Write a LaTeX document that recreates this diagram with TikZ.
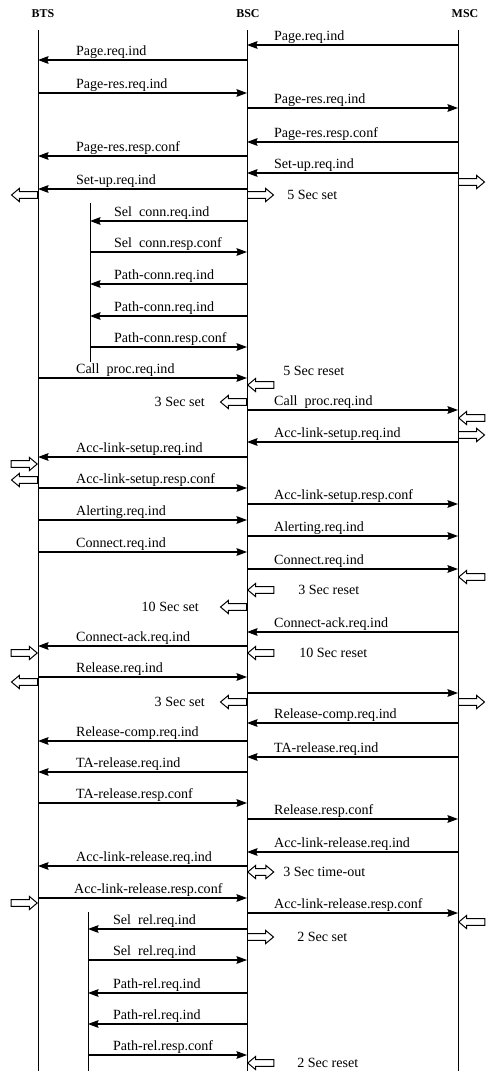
\documentclass[tikz,border=0pt]{standalone}
\usepackage{fontspec}
\setmainfont{Liberation Serif}
\usetikzlibrary{arrows.meta, shapes.arrows}

\begin{document}
\begin{tikzpicture}[
    x=0.025cm, y=-0.025cm,
    head/.style = {inner sep=0pt, font=\fontsize{8.5}{10}\selectfont\bfseries},
    msglabel/.style = {anchor=south west, inner sep=0.6pt, text depth=0.23em, font=\fontsize{10}{12}\selectfont},
    timerlabel/.style = {anchor=west, inner sep=0pt, font=\fontsize{10}{12}\selectfont},
    life/.style = {line width=0.6pt},
    msg/.style = {->, line width=0.8pt},
    timerR/.style = {single arrow, draw, line width=0.7pt, inner sep=2pt, minimum height=18.5pt,
                     single arrow head extend=2.4pt, single arrow tip angle=80},
    timerL/.style = {timerR, shape border rotate=180},
    timerLR/.style = {double arrow, draw, line width=0.7pt, inner sep=2pt, minimum height=18.5pt,
                      double arrow head extend=2.4pt, double arrow tip angle=80},
    >={Stealth[length=7.5pt,width=5.5pt,inset=1pt]}]

\useasboundingbox (0,0) rectangle (492,1071);

% entities and lifelines
\node[head] (BTS) at (43,14) {BTS};
\node[head] (BSC) at (248,14) {BSC};
\node[head] (MSC) at (465,14) {MSC};
\coordinate (bts) at (38,30);  \coordinate (btsend) at (38,1071);
\coordinate (bsc) at (247,30); \coordinate (bscend) at (247,1071);
\coordinate (msc) at (458,30); \coordinate (mscend) at (458,1071);
\coordinate (selA) at (90,203); \coordinate (selAend) at (90,362);
\coordinate (selB) at (88,912); \coordinate (selBend) at (88,1071);

% message labels
\node[msglabel] (m1) at (273,45) {Page.req.ind};
\node[msglabel] (m2) at (75,60) {Page.req.ind};
\node[msglabel] (m3) at (75,93) {Page-res.req.ind};
\node[msglabel] (m4) at (273,108) {Page-res.req.ind};
\node[msglabel] (m5) at (273,142) {Page-res.resp.conf};
\node[msglabel] (m6) at (75,156) {Page-res.resp.conf};
\node[msglabel] (m7) at (273,173) {Set-up.req.ind};
\node[msglabel] (m8) at (75,189) {Set-up.req.ind};
\node[msglabel] (m9) at (113,221) {Sel~ conn.req.ind};
\node[msglabel] (m10) at (113,252) {Sel~ conn.resp.conf};
\node[msglabel] (m11) at (113,284) {Path-conn.req.ind};
\node[msglabel] (m12) at (113,316) {Path-conn.req.ind};
\node[msglabel] (m13) at (113,347) {Path-conn.resp.conf};
\node[msglabel] (m14) at (75,378) {Call~ proc.req.ind};
\node[msglabel] (m15) at (273,410) {Call~ proc.req.ind};
\node[msglabel] (m16) at (273,442) {Acc-link-setup.req.ind};
\node[msglabel] (m17) at (75,457) {Acc-link-setup.req.ind};
\node[msglabel] (m18) at (75,488) {Acc-link-setup.resp.conf};
\node[msglabel] (m19) at (273,504) {Acc-link-setup.resp.conf};
\node[msglabel] (m20) at (75,520) {Alerting.req.ind};
\node[msglabel] (m21) at (273,536) {Alerting.req.ind};
\node[msglabel] (m22) at (75,552) {Connect.req.ind};
\node[msglabel] (m23) at (273,569) {Connect.req.ind};
\node[msglabel] (m24) at (273,632) {Connect-ack.req.ind};
\node[msglabel] (m25) at (75,646) {Connect-ack.req.ind};
\node[msglabel] (m26) at (75,677) {Release.req.ind};
\coordinate (m27) at (0,693);
\node[msglabel] (m28) at (273,723) {Release-comp.req.ind};
\node[msglabel] (m29) at (75,741) {Release-comp.req.ind};
\node[msglabel] (m30) at (273,757) {TA-release.req.ind};
\node[msglabel] (m31) at (75,772) {TA-release.req.ind};
\node[msglabel] (m32) at (75,803) {TA-release.resp.conf};
\node[msglabel] (m33) at (273,819) {Release.resp.conf};
\node[msglabel] (m34) at (273,852) {Acc-link-release.req.ind};
\node[msglabel] (m35) at (75,866) {Acc-link-release.req.ind};
\node[msglabel] (m36) at (73,898) {Acc-link-release.resp.conf};
\node[msglabel] (m37) at (273,913) {Acc-link-release.resp.conf};
\node[msglabel] (m38) at (112,929) {Sel~ rel.req.ind};
\node[msglabel] (m39) at (112,960) {Sel~ rel.req.ind};
\node[msglabel] (m40) at (112,993) {Path-rel.req.ind};
\node[msglabel] (m41) at (112,1024) {Path-rel.req.ind};
\node[msglabel] (m42) at (112,1055) {Path-rel.resp.conf};

% timer labels
\node[timerlabel] (t1) at (287,195) {5 Sec set};
\node[timerlabel] (t2) at (283,371) {5 Sec reset};
\node[timerlabel, anchor=east] (t3) at (205,402) {3 Sec set};
\node[timerlabel] (t4) at (298,590) {3 Sec reset};
\node[timerlabel, anchor=east] (t5) at (199,607) {10 Sec set};
\node[timerlabel] (t6) at (299,653) {10 Sec reset};
\node[timerlabel, anchor=east] (t7) at (205,702) {3 Sec set};
\node[timerlabel] (t8) at (283,872) {3 Sec time-out};
\node[timerlabel] (t9) at (297,937) {2 Sec set};
\node[timerlabel] (t10) at (297,1063) {2 Sec reset};

% timer arrows
\node[timerR, anchor=tail] (h1) at (458,182) {};
\node[timerL, anchor=tail] (h2) at (38,195) {};
\node[timerR, anchor=tail] (h3) at (247,195) {};
\node[timerL, anchor=tip] (h4) at (247,385) {};
\node[timerL, anchor=tail] (h5) at (247,402) {};
\node[timerL, anchor=tip] (h6) at (458,418) {};
\node[timerR, anchor=tail] (h7) at (458,435) {};
\node[timerR, anchor=tip] (h8) at (38,464) {};
\node[timerL, anchor=tail] (h9) at (38,480) {};
\node[timerL, anchor=tip] (h10) at (458,577) {};
\node[timerL, anchor=tip] (h11) at (247,590) {};
\node[timerL, anchor=tail] (h12) at (247,607) {};
\node[timerR, anchor=tip] (h13) at (38,653) {};
\node[timerL, anchor=tip] (h14) at (247,653) {};
\node[timerL, anchor=tail] (h15) at (38,682) {};
\node[timerR, anchor=tail] (h16) at (458,702) {};
\node[timerL, anchor=tail] (h17) at (247,702) {};
\node[timerLR, anchor=west] (h18) at (247,872) {};
\node[timerR, anchor=tip] (h19) at (38,903) {};
\node[timerL, anchor=tip] (h20) at (458,922) {};
\node[timerR, anchor=tail] (h21) at (247,937) {};
\node[timerL, anchor=tip] (h22) at (247,1063) {};

% lifelines
\draw[life] (bts) -- (btsend);
\draw[life] (bsc) -- (bscend);
\draw[life] (msc) -- (mscend);
\draw[life] (selA) -- (selAend);
\draw[life] (selB) -- (selBend);

%connectors
\draw[msg] (msc|-m1.south) -- (bsc|-m1.south);
\draw[msg] (bsc|-m2.south) -- (bts|-m2.south);
\draw[msg] (bts|-m3.south) -- (bsc|-m3.south);
\draw[msg] (bsc|-m4.south) -- (msc|-m4.south);
\draw[msg] (msc|-m5.south) -- (bsc|-m5.south);
\draw[msg] (bsc|-m6.south) -- (bts|-m6.south);
\draw[msg] (msc|-m7.south) -- (bsc|-m7.south);
\draw[msg] (bsc|-m8.south) -- (bts|-m8.south);
\draw[msg] (bsc|-m9.south) -- (selA|-m9.south);
\draw[msg] (selA|-m10.south) -- (bsc|-m10.south);
\draw[msg] (bsc|-m11.south) -- (selA|-m11.south);
\draw[msg] (bsc|-m12.south) -- (selA|-m12.south);
\draw[msg] (selA|-m13.south) -- (bsc|-m13.south);
\draw[msg] (bts|-m14.south) -- (bsc|-m14.south);
\draw[msg] (bsc|-m15.south) -- (msc|-m15.south);
\draw[msg] (msc|-m16.south) -- (bsc|-m16.south);
\draw[msg] (bsc|-m17.south) -- (bts|-m17.south);
\draw[msg] (bts|-m18.south) -- (bsc|-m18.south);
\draw[msg] (bsc|-m19.south) -- (msc|-m19.south);
\draw[msg] (bts|-m20.south) -- (bsc|-m20.south);
\draw[msg] (bsc|-m21.south) -- (msc|-m21.south);
\draw[msg] (bts|-m22.south) -- (bsc|-m22.south);
\draw[msg] (bsc|-m23.south) -- (msc|-m23.south);
\draw[msg] (msc|-m24.south) -- (bsc|-m24.south);
\draw[msg] (bsc|-m25.south) -- (bts|-m25.south);
\draw[msg] (bts|-m26.south) -- (bsc|-m26.south);
\draw[msg] (bsc|-m27) -- (msc|-m27);
\draw[msg] (msc|-m28.south) -- (bsc|-m28.south);
\draw[msg] (bsc|-m29.south) -- (bts|-m29.south);
\draw[msg] (msc|-m30.south) -- (bsc|-m30.south);
\draw[msg] (bsc|-m31.south) -- (bts|-m31.south);
\draw[msg] (bts|-m32.south) -- (bsc|-m32.south);
\draw[msg] (bsc|-m33.south) -- (msc|-m33.south);
\draw[msg] (msc|-m34.south) -- (bsc|-m34.south);
\draw[msg] (bsc|-m35.south) -- (bts|-m35.south);
\draw[msg] (bts|-m36.south) -- (bsc|-m36.south);
\draw[msg] (bsc|-m37.south) -- (msc|-m37.south);
\draw[msg] (bsc|-m38.south) -- (selB|-m38.south);
\draw[msg] (selB|-m39.south) -- (bsc|-m39.south);
\draw[msg] (bsc|-m40.south) -- (selB|-m40.south);
\draw[msg] (bsc|-m41.south) -- (selB|-m41.south);
\draw[msg] (selB|-m42.south) -- (bsc|-m42.south);
\end{tikzpicture}
\end{document}
